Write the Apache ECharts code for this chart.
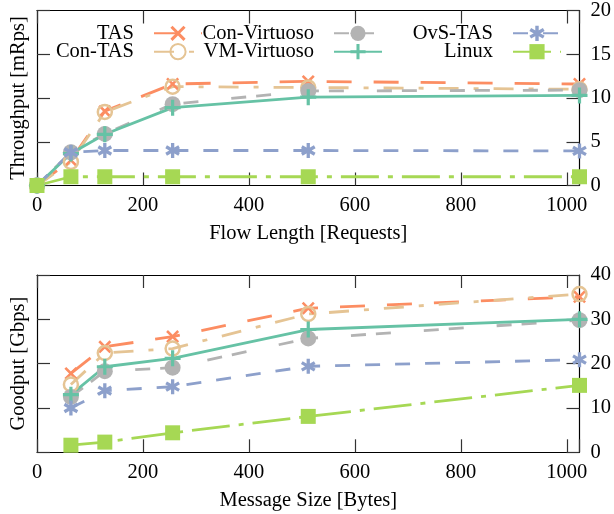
<!DOCTYPE html>
<html>
<head>
<meta charset="utf-8">
<script src="https://cdn.jsdelivr.net/npm/echarts@6/dist/echarts.min.js"></script>
<style>
  html, body { margin: 0; padding: 0; background: #fff; }
  #chart-container { width: 614px; height: 514px; }
</style>
</head>
<body>
<div id="chart-container"></div>
<script>
// top panel: throughput vs flow length
const flowLen = [0, 64, 128, 256, 512, 1024];
const tputTAS = [0, 2.9, 8.5, 11.6, 11.9, 11.6];
const tputConTAS = [0, 2.7, 8.4, 11.3, 11.2, 11.0];
const tputConVirt = [0, 3.8, 5.9, 9.3, 10.8, 10.9];
const tputVMVirt = [0, 3.65, 5.85, 8.9, 10.1, 10.3];
const tputOvS = [0, 3.8, 4.0, 4.0, 4.0, 3.95];
const tputLinux = [0, 1.0, 1.0, 1.0, 1.0, 1.0];

// bottom panel: goodput vs message size
const msgSize = [64, 128, 256, 512, 1024];
const gpTAS = [17.8, 23.8, 26.1, 32.5, 35.1];
const gpConTAS = [15.3, 22.4, 23.4, 31.2, 35.7];
const gpConVirt = [12.5, 18.3, 19.1, 25.7, 29.8];
const gpVMVirt = [13.0, 19.3, 21.2, 27.7, 30.0];
const gpOvS = [10.0, 13.9, 14.8, 19.4, 20.9];
const gpLinux = [1.6, 2.3, 4.4, 8.1, 15.1];

const names = ['TAS', 'Con-TAS', 'Con-Virtuoso', 'VM-Virtuoso', 'OvS-TAS', 'Linux'];
const xTicks = [0, 200, 400, 600, 800, 1000];

const FONT = 'Liberation Serif';
const FS = 20.5;

const crossPath = 'path://M0,14 L14,0 L50,36 L86,0 L100,14 L64,50 L100,86 L86,100 L50,64 L14,100 L0,86 L36,50 Z';
const plusPath = 'path://M40,0 H60 V40 H100 V60 H60 V100 H40 V60 H0 V40 H40 Z';
const starPath = 'path://M39,0 H61 V100 H39 Z M1.2,34.5 L12.2,15.5 L98.8,65.5 L87.8,84.5 Z M87.8,15.5 L98.8,34.5 L12.2,84.5 L1.2,65.5 Z';

const styles = {
    'TAS': { color: '#fc8d62', symbol: crossPath, size: 13, dash: [25, 22] },
    'Con-TAS': { color: '#e5c494', symbol: 'circle', size: 14, dash: [20, 15, 5, 15], hollow: true },
    'Con-Virtuoso': { color: '#b3b3b3', symbol: 'circle', size: 16, dash: [15, 10, 15, 33] },
    'VM-Virtuoso': { color: '#66c2a5', symbol: plusPath, size: 16, dash: 'solid' },
    'OvS-TAS': { color: '#8da0cb', symbol: starPath, size: 15, dash: [15, 15] },
    'Linux': { color: '#a6d854', symbol: 'rect', size: 15, dash: [38, 9, 5, 9] }
};

function makeSeries(name, xs, ys, idx) {
    let st = styles[name];
    return {
        name: name,
        type: 'line',
        xAxisIndex: idx * 2,
        yAxisIndex: idx * 2 + 1,
        data: xs.map((x, i) => [x, ys[i]]),
        symbol: st.symbol,
        symbolSize: st.size,
        symbolKeepAspect: true,
        showAllSymbol: true,
        clip: false,
        lineStyle: { color: st.color, width: 2.8, type: st.dash },
        itemStyle: st.hollow
            ? { color: 'rgba(255,255,255,0)', borderColor: st.color, borderWidth: 2.5 }
            : { color: st.color, borderWidth: 0 },
        emphasis: { disabled: true }
    };
}

function xAxes(idx, title) {
    let base = {
        gridIndex: idx,
        type: 'value',
        min: 0,
        max: 1024,
        interval: 200,
        axisLine: { show: true, onZero: false, lineStyle: { color: '#000', width: 1.2 } },
        axisTick: { inside: true, length: 13, lineStyle: { color: '#333', width: 1.2 } },
        splitLine: { show: false }
    };
    return [
        Object.assign({}, base, {
            position: 'bottom',
            axisLabel: {
                fontFamily: FONT, fontSize: FS, color: '#000', margin: 10,
                formatter: (v) => xTicks.indexOf(v) >= 0 ? String(v) : ''
            },
            name: title,
            nameLocation: 'middle',
            nameGap: 38,
            nameTextStyle: { fontFamily: FONT, fontSize: FS, color: '#000' }
        }),
        Object.assign({}, base, { position: 'top', axisLabel: { show: false } })
    ];
}

function yAxes(idx, max, interval, title) {
    let base = {
        gridIndex: idx,
        type: 'value',
        min: 0,
        max: max,
        interval: interval,
        axisLine: { show: true, onZero: false, lineStyle: { color: '#000', width: 1.2 } },
        axisTick: { inside: true, length: 13, lineStyle: { color: '#333', width: 1.2 } },
        splitLine: { show: false }
    };
    return [
        Object.assign({}, base, {
            position: 'left',
            axisLabel: { show: false },
            name: title,
            nameLocation: 'middle',
            nameGap: 8,
            nameTextStyle: { fontFamily: FONT, fontSize: FS, color: '#000' }
        }),
        Object.assign({}, base, {
            position: 'right',
            axisLabel: { fontFamily: FONT, fontSize: FS, color: '#000', margin: 11 }
        })
    ];
}

// gnuplot style key: 3 columns x 2 rows, text right aligned left of the sample
const keyCols = [203, 383, 562];
const keyRows = [32.3, 50.7];
const keyPos = {
    'TAS': [0, 0], 'Con-TAS': [0, 1],
    'Con-Virtuoso': [1, 0], 'VM-Virtuoso': [1, 1],
    'OvS-TAS': [2, 0], 'Linux': [2, 1]
};
const legends = names.map((n) => ({
    data: [n],
    orient: 'horizontal',
    align: 'right',
    right: 614 - keyCols[keyPos[n][0]],
    top: keyRows[keyPos[n][1]] - 9.5,
    padding: 0,
    itemWidth: 48,
    itemHeight: 19,
    selectedMode: false,
    textStyle: { fontFamily: FONT, fontSize: FS, color: '#000', padding: [0, 15, 0, 0] }
}));

var dom = document.getElementById('chart-container');
var myChart = echarts.init(dom, null, { renderer: 'canvas' });

var option = {
    animation: false,
    backgroundColor: '#fff',
    legend: legends,
    grid: [
        { left: 34.7, top: 8.5, width: 550.6, height: 177, containLabel: false },
        { left: 34.7, top: 275, width: 550.6, height: 177.3, containLabel: false }
    ],
    xAxis: xAxes(0, 'Flow Length [Requests]').concat(xAxes(1, 'Message Size [Bytes]')),
    yAxis: yAxes(0, 20, 5, 'Throughput [mRps]').concat(yAxes(1, 40, 10, 'Goodput [Gbps]')),
    series: [
        makeSeries('TAS', flowLen, tputTAS, 0),
        makeSeries('Con-TAS', flowLen, tputConTAS, 0),
        makeSeries('Con-Virtuoso', flowLen, tputConVirt, 0),
        makeSeries('VM-Virtuoso', flowLen, tputVMVirt, 0),
        makeSeries('OvS-TAS', flowLen, tputOvS, 0),
        makeSeries('Linux', flowLen, tputLinux, 0),
        makeSeries('TAS', msgSize, gpTAS, 1),
        makeSeries('Con-TAS', msgSize, gpConTAS, 1),
        makeSeries('Con-Virtuoso', msgSize, gpConVirt, 1),
        makeSeries('VM-Virtuoso', msgSize, gpVMVirt, 1),
        makeSeries('OvS-TAS', msgSize, gpOvS, 1),
        makeSeries('Linux', msgSize, gpLinux, 1)
    ]
};

myChart.setOption(option);
window.addEventListener('resize', myChart.resize);
</script>
</body>
</html>
